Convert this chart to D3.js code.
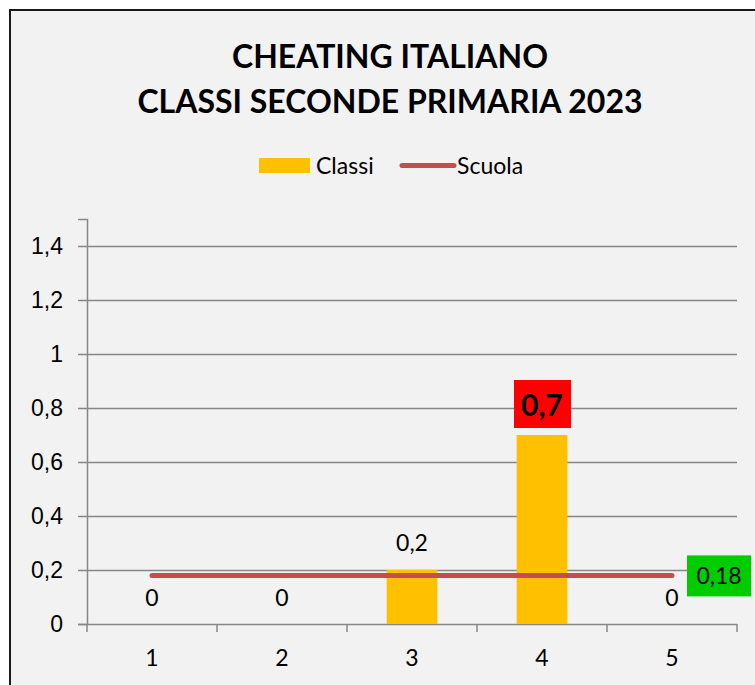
<!DOCTYPE html>
<html>
<head>
<meta charset="utf-8">
<script src="https://cdn.jsdelivr.net/npm/d3@7"></script>
<style>
  body { margin: 0; background: #ffffff; }
  svg { display: block; font-family: Lato, "Open Sans", sans-serif; }
</style>
</head>
<body>
<svg width="755" height="685"></svg>
<script>
var categories = ["1", "2", "3", "4", "5"];
var classi = [0, 0, 0.2, 0.7, 0];
var scuola = [0.18, 0.18, 0.18, 0.18, 0.18];
var yTicks = [0, 0.2, 0.4, 0.6, 0.8, 1, 1.2, 1.4];
var titleLines = ["CHEATING ITALIANO", "CLASSI SECONDE PRIMARIA 2023"];
var seriesNames = ["Classi", "Scuola"];

var it = d3.formatLocale({decimal: ",", thousands: ".", grouping: [3], currency: ["€", ""]});
var fmt = function(v) { return it.format("~g")(v); };

var svg = d3.select("svg");
var margin = {top: 219, right: 18, bottom: 61, left: 87};
var width = 755 - margin.left - margin.right;   // 650
var height = 685 - margin.top - margin.bottom;  // 405
var fs = 23;

// chart area background + border
svg.append("rect")
    .attr("x", 10).attr("y", 10)
    .attr("width", 760).attr("height", 690)
    .attr("fill", "#f2f2f2")
    .attr("stroke", "#1a1a1a")
    .attr("stroke-width", 2);

// title
svg.append("g").selectAll("text")
    .data(titleLines)
    .enter().append("text")
    .attr("x", 390)
    .attr("y", function(d, i) { return 68 + i * 45; })
    .attr("text-anchor", "middle")
    .attr("font-size", 32)
    .attr("font-weight", "bold")
    .attr("fill", "#000")
    .text(function(d) { return d; });

// legend
var legend = svg.append("g").attr("font-size", fs).attr("fill", "#000");
legend.append("rect")
    .attr("x", 259).attr("y", 158).attr("width", 51).attr("height", 15)
    .attr("fill", "#ffc000");
legend.append("text").attr("x", 316).attr("y", 174).text(seriesNames[0]);
legend.append("line")
    .attr("x1", 402).attr("x2", 454).attr("y1", 165.5).attr("y2", 165.5)
    .attr("stroke", "#c0504d").attr("stroke-width", 5).attr("stroke-linecap", "round");
legend.append("text").attr("x", 457).attr("y", 174).text(seriesNames[1]);

var g = svg.append("g")
    .attr("transform", "translate(" + margin.left + "," + margin.top + ")");

var x = d3.scaleBand()
    .domain(categories)
    .range([0, width])
    .padding(0);

var y = d3.scaleLinear()
    .domain([0, 1.5])
    .range([height, 0]);

// gridlines
g.selectAll(".grid")
    .data(yTicks.filter(function(d) { return d > 0; }))
    .enter().append("line")
    .attr("x1", 0).attr("x2", width)
    .attr("y1", function(d) { return Math.round(y(d)) + 0.5; })
    .attr("y2", function(d) { return Math.round(y(d)) + 0.5; })
    .attr("stroke", "#878787")
    .attr("stroke-width", 1.5);

// y axis
var yAxis = g.append("g")
    .call(d3.axisLeft(y).tickValues(yTicks).tickSize(9).tickPadding(15).tickFormat(fmt));
yAxis.select(".domain").attr("stroke", "#878787").attr("stroke-width", 1.5);
yAxis.selectAll(".tick line").attr("stroke", "#878787").attr("stroke-width", 1.5);
yAxis.selectAll("text").attr("font-size", fs).attr("fill", "#000").attr("font-family", null);

// x axis with ticks at band edges
var xAxis = g.append("g").attr("transform", "translate(0," + height + ")");
xAxis.append("line")
    .attr("x1", 0).attr("x2", width).attr("y1", 0.5).attr("y2", 0.5)
    .attr("stroke", "#878787").attr("stroke-width", 1.5);
var edges = categories.map(function(c) { return x(c); }).concat([width]);
xAxis.selectAll(".xtick")
    .data(edges)
    .enter().append("line")
    .attr("x1", function(d) { return d; }).attr("x2", function(d) { return d; })
    .attr("y1", 0).attr("y2", 8)
    .attr("stroke", "#878787").attr("stroke-width", 1.5);
xAxis.selectAll(".xlabel")
    .data(categories)
    .enter().append("text")
    .attr("x", function(d) { return x(d) + x.bandwidth() / 2; })
    .attr("y", 42)
    .attr("text-anchor", "middle")
    .attr("font-size", fs)
    .attr("fill", "#000")
    .text(function(d) { return d; });

// bars
var barW = x.bandwidth() * 0.39;
g.selectAll(".bar")
    .data(classi)
    .enter().append("rect")
    .attr("x", function(d, i) { return x(categories[i]) + (x.bandwidth() - barW) / 2; })
    .attr("y", function(d) { return y(d); })
    .attr("width", barW)
    .attr("height", function(d) { return height - y(d); })
    .attr("fill", "#ffc000");

// scuola line
var line = d3.line()
    .x(function(d, i) { return x(categories[i]) + x.bandwidth() / 2; })
    .y(function(d) { return y(d); });
g.append("path")
    .datum(scuola)
    .attr("d", line)
    .attr("fill", "none")
    .attr("stroke", "#c0504d")
    .attr("stroke-width", 5)
    .attr("stroke-linecap", "round");

// bar labels
var maxVal = d3.max(classi);
classi.forEach(function(v, i) {
    var cx = x(categories[i]) + x.bandwidth() / 2;
    if (v === maxVal) {
        g.append("rect")
            .attr("x", cx - 28).attr("y", y(v) - 55)
            .attr("width", 57).attr("height", 48)
            .attr("fill", "#ff0000");
        g.append("text")
            .attr("x", cx).attr("y", y(v) - 19)
            .attr("text-anchor", "middle")
            .attr("font-size", 30).attr("font-weight", "bold").attr("fill", "#000")
            .text(fmt(v));
    } else if (v > 0) {
        g.append("text")
            .attr("x", cx).attr("y", y(v) - 19)
            .attr("text-anchor", "middle")
            .attr("font-size", fs).attr("fill", "#000")
            .text(fmt(v));
    } else {
        g.append("text")
            .attr("x", cx).attr("y", height - 18)
            .attr("text-anchor", "middle")
            .attr("font-size", fs).attr("fill", "#000")
            .text(fmt(v));
    }
});

// scuola label at the right end
var last = scuola.length - 1;
var lx = x(categories[last]) + x.bandwidth() / 2;
g.append("rect")
    .attr("x", lx + 15).attr("y", y(scuola[last]) - 20)
    .attr("width", 64).attr("height", 41)
    .attr("fill", "#00cc00");
g.append("text")
    .attr("x", lx + 47).attr("y", y(scuola[last]) + 9)
    .attr("text-anchor", "middle")
    .attr("font-size", fs).attr("fill", "#000")
    .text(fmt(scuola[last]));
</script>
</body>
</html>
